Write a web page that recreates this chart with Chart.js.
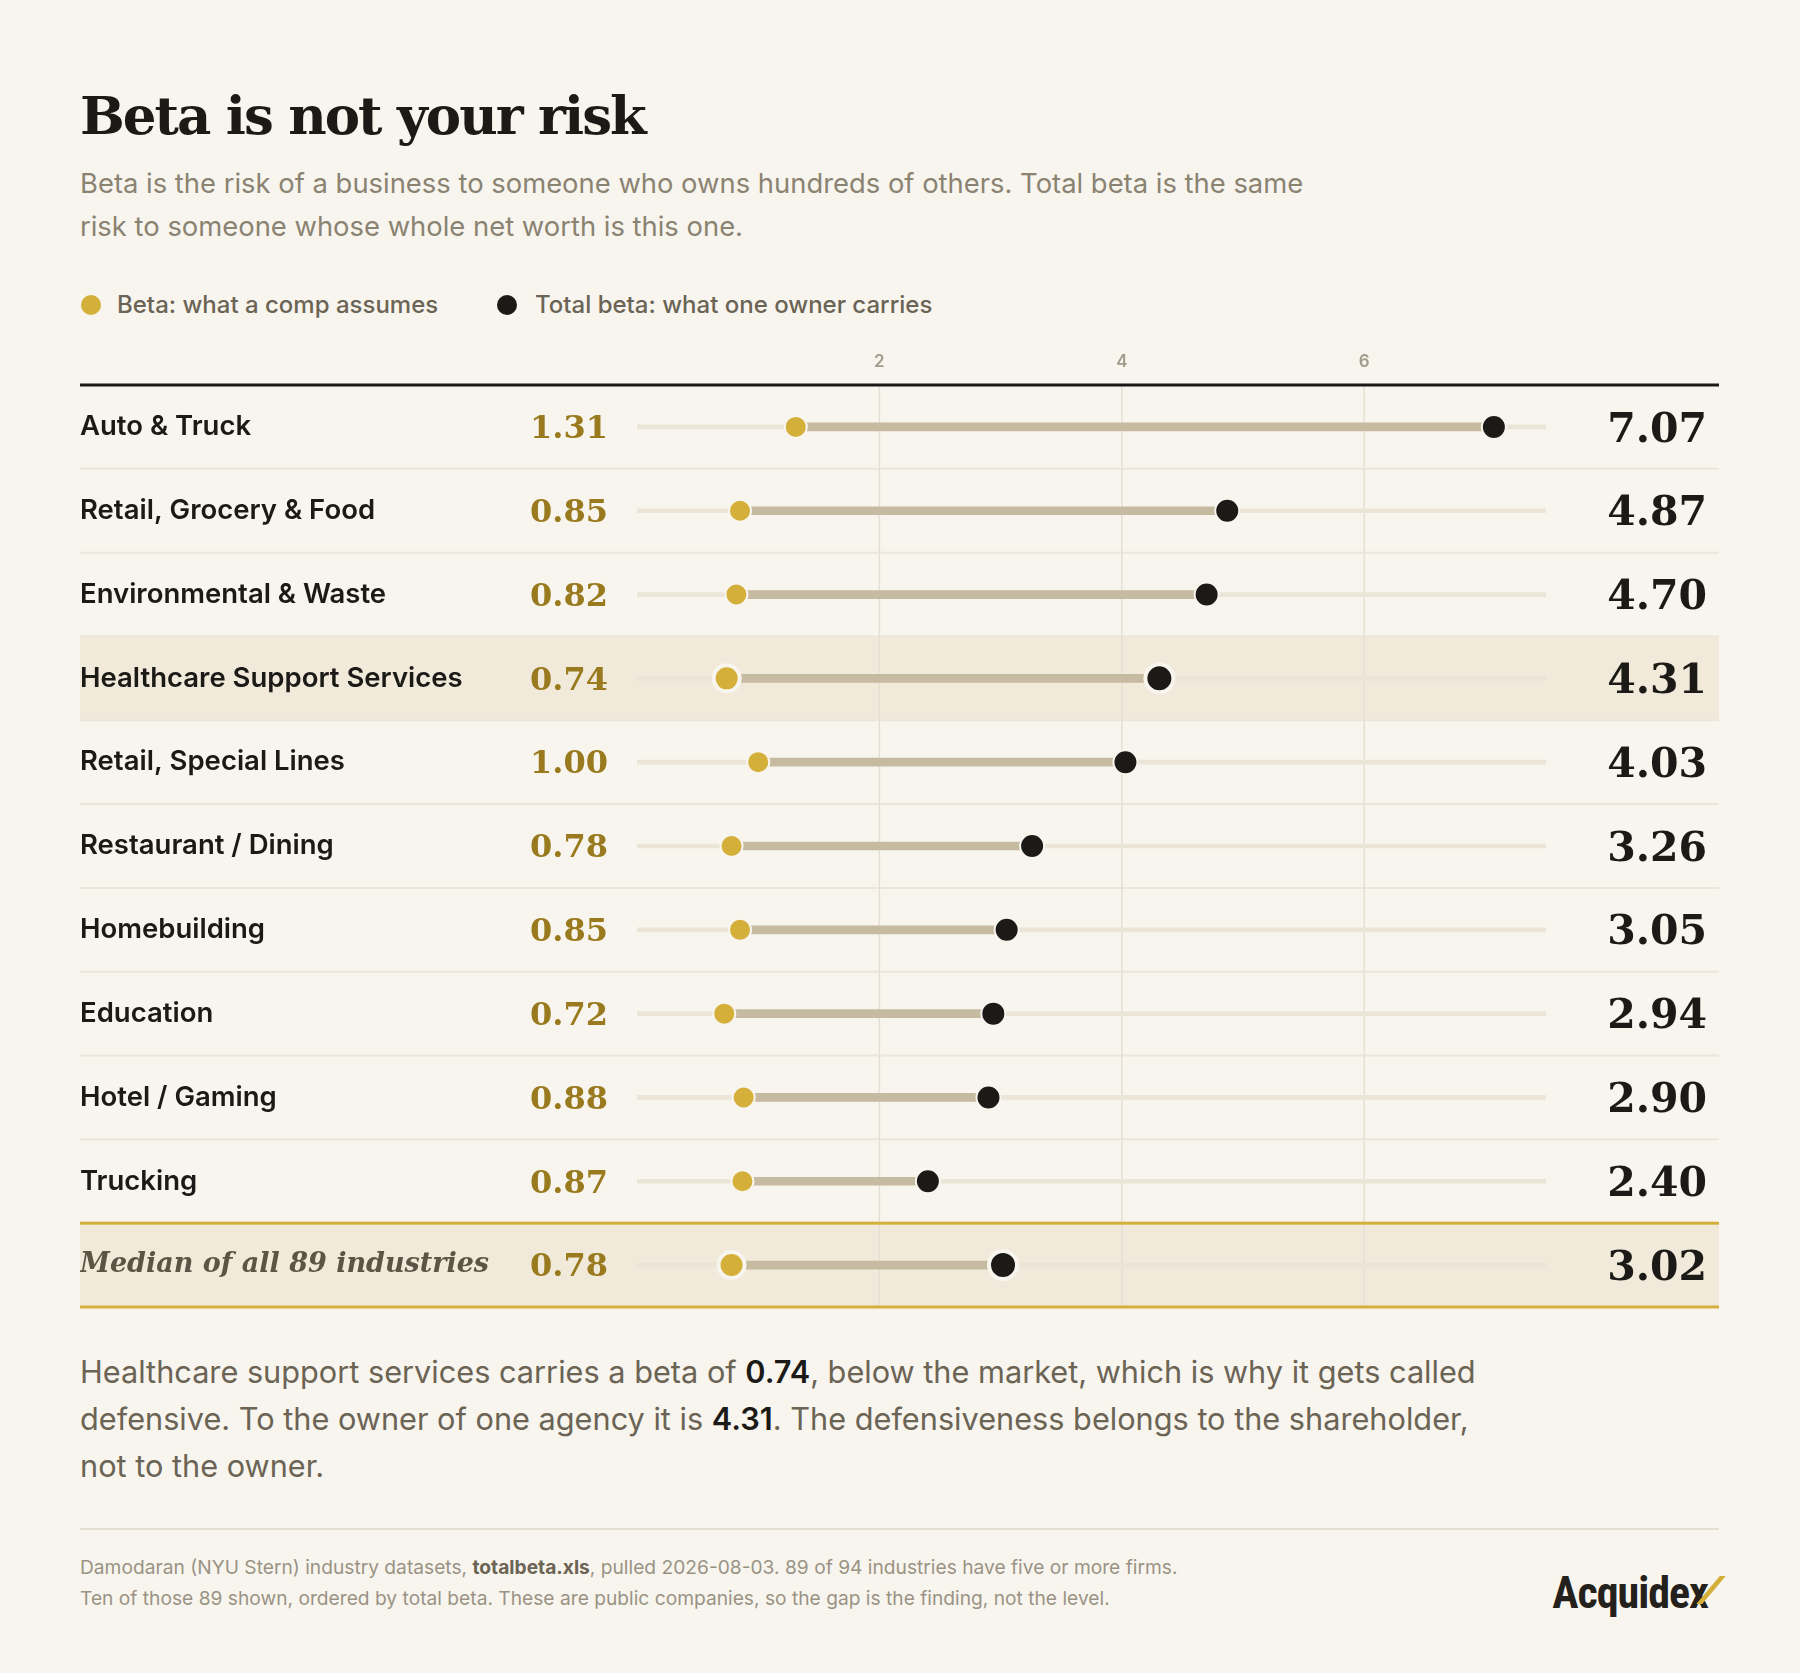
<!DOCTYPE html>
<html><head><meta charset="utf-8">
<script src="https://cdn.jsdelivr.net/npm/chart.js@4"></script>
<style>
body{margin:0;background:#f8f5ee;width:1800px;height:1673px;position:relative;font-family:Inter,"Noto Sans",sans-serif;overflow:hidden}
.a{position:absolute;white-space:nowrap}
#title{left:80px;top:86px;font:bold 53px/58px "DejaVu Serif",serif;color:#1c1a17;letter-spacing:-2px}
#sub{left:80px;top:162px;font-size:27.4px;line-height:43px;color:#8a8372;white-space:normal;width:1400px}
.leg{top:290px;font-size:24px;line-height:30px;color:#6b6455;font-weight:500}
.dot{position:absolute;width:20px;height:20px;border-radius:50%;top:295px}
#para{left:80px;top:1348px;font-size:30.7px;line-height:47px;color:#6b6455;white-space:normal;width:1600px}
#para b{color:#1c1a17;font-weight:600}
#rule{left:80px;top:1528px;width:1639px;height:2px;background:#e5dfd2}
#foot{left:80px;top:1552px;font-size:19.2px;line-height:31px;color:#9a9385}
#foot b{color:#6b6455}
#logo{right:92px;top:1565px;font:bold 44px/56px "Liberation Sans Narrow","Roboto Condensed",Roboto,sans-serif;color:#24211d;letter-spacing:-1px}
#tick{position:absolute;right:86px;top:1576px;width:6px;height:28px;background:#d4af3a;transform:skewX(-40deg)}
</style></head><body>
<div class="a" id="title">Beta is not your risk</div>
<div class="a" id="sub">Beta is the risk of a business to someone who owns hundreds of others. Total beta is the same<br>risk to someone whose whole net worth is this one.</div>
<div class="dot" style="left:81px;background:#d4af3a"></div>
<div class="a leg" style="left:117px">Beta: what a comp assumes</div>
<div class="dot" style="left:497px;background:#1c1a17"></div>
<div class="a leg" style="left:535px">Total beta: what one owner carries</div>
<div class="a" style="left:80px;top:344px;width:1639px;height:981px"><canvas id="c" width="1639" height="981"></canvas></div>
<div class="a" id="para">Healthcare support services carries a beta of <b>0.74</b>, below the market, which is why it gets called<br>defensive. To the owner of one agency it is <b>4.31</b>. The defensiveness belongs to the shareholder,<br>not to the owner.</div>
<div class="a" id="rule"></div>
<div class="a" id="foot">Damodaran (NYU Stern) industry datasets, <b>totalbeta.xls</b>, pulled 2026-08-03. 89 of 94 industries have five or more firms.<br>Ten of those 89 shown, ordered by total beta. These are public companies, so the gap is the finding, not the level.</div>
<div class="a" id="logo">Acquidex</div><div id="tick"></div>
<script>
const categories=["Auto & Truck","Retail, Grocery & Food","Environmental & Waste","Healthcare Support Services","Retail, Special Lines","Restaurant / Dining","Homebuilding","Education","Hotel / Gaming","Trucking","Median of all 89 industries"];
const betaValues=[1.31,0.85,0.82,0.74,1.00,0.78,0.85,0.72,0.88,0.87,0.78];
const totalBetaValues=[7.07,4.87,4.70,4.31,4.03,3.26,3.05,2.94,2.90,2.40,3.02];
const tickValues=[2,4,6];
const axisMax=7.5;
const highlighted=[3,10];

const isHi=i=>highlighted.includes(i);
const plug={id:'deco',
beforeDatasetsDraw(ch){
 const c=ch.ctx,a=ch.chartArea,x=ch.scales.x,y=ch.scales.y,W=ch.width;
 const band=(a.bottom-a.top)/categories.length;
 c.save();
 highlighted.forEach(i=>{const cy=y.getPixelForValue(i);c.fillStyle='#f1eadb';c.fillRect(0,cy-band/2,W,band);});
 c.strokeStyle='#ece6da';c.lineWidth=2;
 for(let i=1;i<categories.length-1;i++){const yy=y.getPixelForValue(i)-band/2;c.beginPath();c.moveTo(0,yy);c.lineTo(W,yy);c.stroke();}
 c.strokeStyle='#e6e0d2';c.lineWidth=1.5;
 tickValues.forEach(v=>{const px=x.getPixelForValue(v);c.beginPath();c.moveTo(px,a.top);c.lineTo(px,a.bottom);c.stroke();
  c.fillStyle='#a39c8c';c.font='600 17px Inter';c.textAlign='center';c.textBaseline='middle';c.fillText(String(v),px,a.top-23);});
 c.fillStyle='#1c1a17';c.fillRect(0,a.top-1.5,W,3);
 const my=y.getPixelForValue(10);c.fillStyle='#d4af3a';c.fillRect(0,my-band/2-1.5,W,3);c.fillRect(0,my+band/2-1.5,W,3);
 c.restore();},
afterDatasetsDraw(ch){
 const c=ch.ctx,x=ch.scales.x,y=ch.scales.y;c.save();c.textBaseline='middle';
 categories.forEach((n,i)=>{const cy=y.getPixelForValue(i);
  c.textAlign='left';
  if(i===10){c.font='italic bold 27px "DejaVu Serif",serif';c.fillStyle='#5c5445';}
  else{c.font='600 27.5px Inter';c.fillStyle='#1c1a17';}
  c.fillText(n,0,cy);
  c.textAlign='right';c.font='bold 32px "DejaVu Serif",serif';c.fillStyle='#9a7a1e';c.fillText(betaValues[i].toFixed(2),528,cy+3);
  c.font='bold 41px "DejaVu Serif",serif';c.fillStyle='#1c1a17';c.fillText(totalBetaValues[i].toFixed(2),1627,cy+4);
 });c.restore();}};
new Chart(document.getElementById('c'),{
 data:{labels:categories,datasets:[
  {type:'bar',data:categories.map(()=>[0,axisMax]),backgroundColor:'#ebe5d7',barThickness:4,grouped:false,order:4},
  {type:'bar',data:betaValues.map((b,i)=>[b,totalBetaValues[i]]),backgroundColor:'#c6baa1',barThickness:8,grouped:false,order:3},
  {type:'line',showLine:false,data:betaValues.map((v,i)=>({x:v,y:categories[i]})),pointBackgroundColor:'#d4af3a',pointBorderColor:'#f8f5ee',pointBorderWidth:categories.map((_,i)=>isHi(i)?4:2),pointRadius:categories.map((_,i)=>isHi(i)?13:11),order:2},
  {type:'line',showLine:false,data:totalBetaValues.map((v,i)=>({x:v,y:categories[i]})),pointBackgroundColor:'#1c1a17',pointBorderColor:'#f8f5ee',pointBorderWidth:categories.map((_,i)=>isHi(i)?4:2),pointRadius:categories.map((_,i)=>isHi(i)?14:12),order:1}
 ]},
 options:{indexAxis:'y',responsive:false,animation:false,events:[],
  layout:{padding:{left:557,right:173,top:41,bottom:0}},
  plugins:{legend:{display:false},tooltip:{enabled:false}},
  scales:{x:{type:'linear',min:0,max:axisMax,display:false},y:{type:'category',display:false,offset:true}}},
 plugins:[plug]});
</script></body></html>
